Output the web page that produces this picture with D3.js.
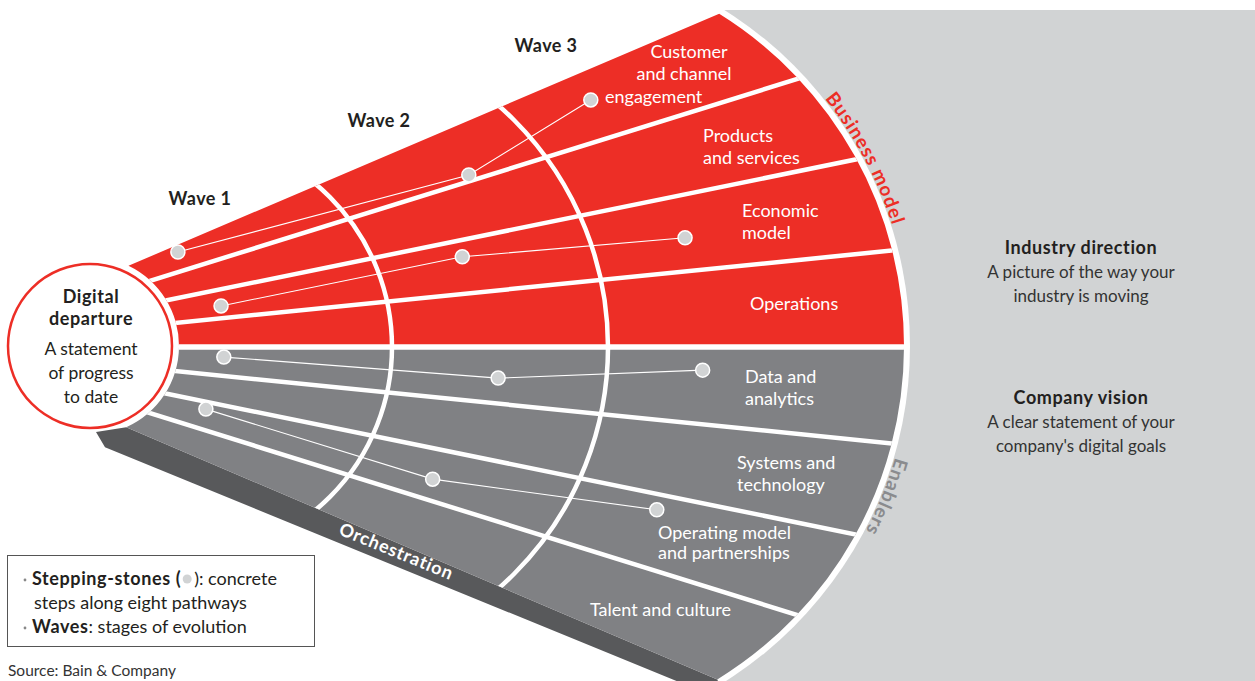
<!DOCTYPE html>
<html>
<head>
<meta charset="utf-8">
<script src="https://cdn.jsdelivr.net/npm/d3@7"></script>
<style>
body { margin: 0; background: #fff; }
svg { display: block; font-family: Lato, "Open Sans", sans-serif; }
</style>
</head>
<body>
<div class="view"></div>
<script>
var width = 1255;
var height = 681;

// eight pathways, top to bottom
var pathways = ["Customer and channel engagement", "Products and services", "Economic model", "Operations",
    "Data and analytics", "Systems and technology", "Operating model and partnerships", "Talent and culture"];
var pathwayLines = [["Customer", "and channel", "engagement"], ["Products", "and services"], ["Economic", "model"],
    ["Operations"], ["Data and", "analytics"], ["Systems and", "technology"], ["Operating model", "and partnerships"],
    ["Talent and culture"]];
var groups = ["Business model", "Enablers"];
var waves = ["Wave 1", "Wave 2", "Wave 3"];

// stepping-stones: which pathway, where inside the band (0 = top edge), distance from fan origin
var stonePathways = [0, 2, 4, 6];
var stoneBand = [[0.26, 0.89, 0.41], [0.57, 0.31, 0.56], [0.35, 0.55, 0.30], [0.26, 0.59, 0.21]];
var stoneDist = [[258, 558, 698], [286, 532, 755], [286, 561, 765], [275, 512, 737]];

var sideTitles = ["Industry direction", "Company vision"];
var sideLines = [["A picture of the way your", "industry is moving"], ["A clear statement of your", "company's digital goals"]];

var red = "#ed2e26";
var gray = "#808184";
var dark = "#58595b";
var light = "#d1d3d4";
var ink = "#231f20";

var svg = d3.select(".view")
    .append("svg")
    .attr("width", width)
    .attr("height", height);

// fan geometry
var origin = [-62, 347];
var angle = d3.scaleLinear().domain([0, 8]).range([-23.1, 23.1]);
var inner = {cx: 90, cy: 346, r: 89};
var outer = {cx: 513, cy: 346, r: 391};
var waveArcs = [{cx: 180, cy: 347, r: 212}, {cx: 287, cy: 347, r: 321}];

var deg = Math.PI / 180;

function polar(a, d) {
    return [origin[0] + d * Math.cos(a * deg), origin[1] + d * Math.sin(a * deg)];
}

// distance along a ray where it leaves circle c
function rayHit(a, c) {
    var ux = Math.cos(a * deg), uy = Math.sin(a * deg);
    var fx = origin[0] - c.cx, fy = origin[1] - c.cy;
    var b = fx * ux + fy * uy;
    var cc = fx * fx + fy * fy - c.r * c.r;
    return -b + Math.sqrt(b * b - cc);
}

function ang(c, p) {
    return Math.atan2(p[1] - c.cy, p[0] - c.cx);
}

function fanPath(a0, a1) {
    var p0 = polar(a0, rayHit(a0, inner)),
        p1 = polar(a0, rayHit(a0, outer)),
        p2 = polar(a1, rayHit(a1, outer)),
        p3 = polar(a1, rayHit(a1, inner));
    var p = d3.path();
    p.moveTo(p0[0], p0[1]);
    p.lineTo(p1[0], p1[1]);
    p.arc(outer.cx, outer.cy, outer.r, ang(outer, p1), ang(outer, p2), false);
    p.lineTo(p3[0], p3[1]);
    p.arc(inner.cx, inner.cy, inner.r, ang(inner, p3), ang(inner, p0), true);
    p.closePath();
    return p.toString();
}

// light gray backdrop right of the fan
svg.append("rect")
    .attr("x", outer.cx)
    .attr("y", 10)
    .attr("width", width - outer.cx)
    .attr("height", height - 10)
    .attr("fill", light);

svg.append("circle")
    .attr("cx", outer.cx)
    .attr("cy", outer.cy)
    .attr("r", outer.r + 6)
    .attr("fill", "#fff");

// orchestration band under the fan
var bandLow = function (x) { return 527 + 0.409 * (x - 300); };
var bA = polar(angle(8), rayHit(angle(8), inner));
var bB = polar(angle(8), rayHit(angle(8), outer));
svg.append("path")
    .attr("d", d3.line()([bA, bB, [bB[0] + 20, 730], [300 + (730 - 527) / 0.409, 730], [105, bandLow(105)], [96, 432]]))
    .attr("fill", dark);

svg.append("text")
    .attr("transform", "translate(394,557) rotate(22.3)")
    .attr("text-anchor", "middle")
    .attr("fill", "#fff")
    .attr("font-weight", "bold")
    .attr("font-size", 18)
    .attr("letter-spacing", 0.8)
    .text("Orchestration");

// fan halves
svg.append("path").attr("d", fanPath(angle(0), angle(4))).attr("fill", red);
svg.append("path").attr("d", fanPath(angle(4), angle(8))).attr("fill", gray);

svg.append("clipPath")
    .attr("id", "fan-clip")
    .append("path")
    .attr("d", fanPath(angle(0), angle(8)));

var grid = svg.append("g").attr("clip-path", "url(#fan-clip)");

grid.selectAll("line")
    .data(d3.range(1, 8))
    .enter().append("line")
    .attr("x1", function (i) { return polar(angle(i), 0)[0]; })
    .attr("y1", function (i) { return polar(angle(i), 0)[1]; })
    .attr("x2", function (i) { return polar(angle(i), 1200)[0]; })
    .attr("y2", function (i) { return polar(angle(i), 1200)[1]; })
    .attr("stroke", "#fff")
    .attr("stroke-width", function (i) { return i == 4 ? 5.5 : 4.5; });

grid.selectAll("circle")
    .data(waveArcs)
    .enter().append("circle")
    .attr("cx", function (d) { return d.cx; })
    .attr("cy", function (d) { return d.cy; })
    .attr("r", function (d) { return d.r; })
    .attr("fill", "none")
    .attr("stroke", "#fff")
    .attr("stroke-width", 4.5);

// stepping-stones
var stones = stonePathways.map(function (pi, k) {
    return stoneBand[k].map(function (f, j) {
        return polar(angle(pi + f), stoneDist[k][j]);
    });
});

svg.append("g").selectAll("path")
    .data(stones)
    .enter().append("path")
    .attr("d", d3.line())
    .attr("fill", "none")
    .attr("stroke", "#fff")
    .attr("stroke-width", 1.1);

svg.append("g").selectAll("circle")
    .data(d3.merge(stones))
    .enter().append("circle")
    .attr("cx", function (d) { return d[0]; })
    .attr("cy", function (d) { return d[1]; })
    .attr("r", 7)
    .attr("fill", light)
    .attr("stroke", "#fff")
    .attr("stroke-width", 1.5);

// pathway labels: [x, baseline, anchor] per line
var labelPos = [
    [[689, 58, "middle"], [684, 80, "middle"], [605, 103, "start"]],
    [[703, 142, "start"], [703, 164, "start"]],
    [[742, 217, "start"], [742, 239, "start"]],
    [[750, 310, "start"]],
    [[745, 383, "start"], [745, 405, "start"]],
    [[737, 469, "start"], [737, 491, "start"]],
    [[658, 539, "start"], [658, 559, "start"]],
    [[590, 616, "start"]]
];

pathwayLines.forEach(function (lines, i) {
    svg.append("g").selectAll("text")
        .data(lines)
        .enter().append("text")
        .attr("x", function (d, j) { return labelPos[i][j][0]; })
        .attr("y", function (d, j) { return labelPos[i][j][1]; })
        .attr("text-anchor", function (d, j) { return labelPos[i][j][2]; })
        .attr("fill", "#fff")
        .attr("font-size", 18)
        .text(function (d) { return d; });
});

// curved group labels outside the fan
var groupAngle = [-28, 22];
var groupColor = [red, "#8a8b8e"];
groups.forEach(function (g, i) {
    var p = d3.path();
    p.arc(outer.cx, outer.cy, 398, (groupAngle[i] - 40) * deg, (groupAngle[i] + 40) * deg, false);
    svg.append("path").attr("id", "grp" + i).attr("d", p.toString()).attr("fill", "none");
    svg.append("text")
        .attr("fill", groupColor[i])
        .attr("font-weight", "bold")
        .attr("font-size", 19)
        .attr("letter-spacing", 1)
        .append("textPath")
        .attr("href", "#grp" + i)
        .attr("startOffset", "50%")
        .attr("text-anchor", "middle")
        .text(g);
});

// wave labels
var wavePos = [[200, 205], [379, 127], [546, 52]];
svg.append("g").selectAll("text")
    .data(waves)
    .enter().append("text")
    .attr("x", function (d, i) { return wavePos[i][0]; })
    .attr("y", function (d, i) { return wavePos[i][1]; })
    .attr("text-anchor", "middle")
    .attr("fill", ink)
    .attr("font-weight", "bold")
    .attr("font-size", 18)
    .attr("letter-spacing", 0.4)
    .text(function (d) { return d; });

// digital departure
svg.append("circle")
    .attr("cx", 90)
    .attr("cy", 346)
    .attr("r", 82)
    .attr("fill", "#fff")
    .attr("stroke", red)
    .attr("stroke-width", 2.5);

var departLines = ["Digital", "departure", "A statement", "of progress", "to date"];
var departY = [303, 325, 355, 379, 403];
svg.append("g").selectAll("text")
    .data(departLines)
    .enter().append("text")
    .attr("x", 91)
    .attr("y", function (d, i) { return departY[i]; })
    .attr("text-anchor", "middle")
    .attr("fill", ink)
    .attr("font-weight", function (d, i) { return i < 2 ? "bold" : "normal"; })
    .attr("letter-spacing", function (d, i) { return i < 2 ? 0.6 : 0; })
    .attr("font-size", function (d, i) { return i < 2 ? 18 : 17.5; })
    .text(function (d) { return d; });

// side notes
var sideY = [254, 404];
sideTitles.forEach(function (t, i) {
    var g = svg.append("g").attr("transform", "translate(1081," + sideY[i] + ")");
    g.append("text")
        .attr("text-anchor", "middle")
        .attr("fill", ink)
        .attr("font-weight", "bold")
        .attr("font-size", 18)
        .attr("letter-spacing", 0.6)
        .text(t);
    g.selectAll("text.line")
        .data(sideLines[i])
        .enter().append("text")
        .attr("class", "line")
        .attr("y", function (d, j) { return 24 * (j + 1); })
        .attr("text-anchor", "middle")
        .attr("fill", "#333")
        .attr("font-size", 17)
        .text(function (d) { return d; });
});

// legend
var key = svg.append("g").attr("class", "key");
key.append("rect")
    .attr("x", 7.5)
    .attr("y", 555.5)
    .attr("width", 307)
    .attr("height", 91)
    .attr("fill", "#fff")
    .attr("stroke", "#555")
    .attr("stroke-width", 1);

key.selectAll("circle.bullet")
    .data([580, 628])
    .enter().append("circle")
    .attr("class", "bullet")
    .attr("cx", 25)
    .attr("cy", function (d) { return d; })
    .attr("r", 1.4)
    .attr("fill", "#888");

var t1 = key.append("text").attr("x", 32).attr("y", 585).attr("font-size", 18).attr("fill", ink);
var t1b = t1.append("tspan").attr("font-weight", "bold").attr("letter-spacing", 0.6).text("Stepping-stones (");
t1.append("tspan").attr("dx", 13).text("): concrete");
key.append("circle")
    .attr("cx", 32 + t1b.node().getComputedTextLength() + 6)
    .attr("cy", 579)
    .attr("r", 4.5)
    .attr("fill", light);

key.append("text").attr("x", 34).attr("y", 609).attr("font-size", 18).attr("fill", ink)
    .text("steps along eight pathways");

var t3 = key.append("text").attr("x", 32).attr("y", 633).attr("font-size", 18).attr("fill", ink);
t3.append("tspan").attr("font-weight", "bold").attr("letter-spacing", 0.6).text("Waves");
t3.append("tspan").text(": stages of evolution");

svg.append("text")
    .attr("x", 8)
    .attr("y", 676)
    .attr("font-size", 15.5)
    .attr("fill", "#333")
    .text("Source: Bain & Company");
</script>
</body>
</html>
